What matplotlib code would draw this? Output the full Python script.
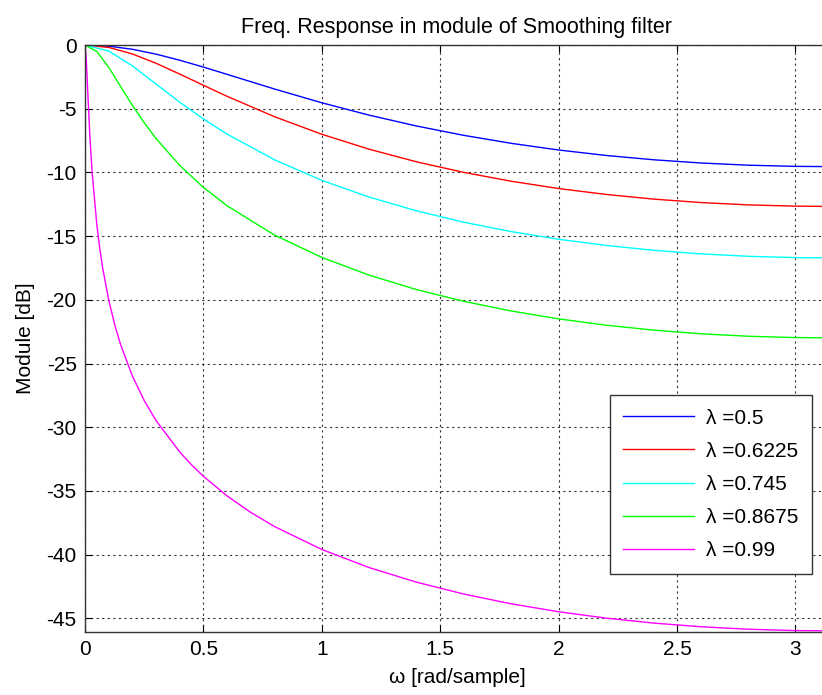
import numpy as np
import matplotlib.pyplot as plt

plt.rcParams['font.family'] = ['Liberation Sans', 'DejaVu Sans']
plt.rcParams['axes.unicode_minus'] = False

# values (module in dB vs omega in rad/sample)
w_a = [0, 0.1, 0.2, 0.3, 0.4, 0.5, 0.6, 0.8, 1.0, 1.2, 1.4, 1.6, 1.8, 2.0,
       2.2, 2.4, 2.6, 2.8, 3.0, 3.1416]
mod_050 = [0, -0.086, -0.334, -0.714, -1.192, -1.730, -2.301, -3.451, -4.532,
           -5.503, -6.355, -7.090, -7.715, -8.238, -8.665, -9.004, -9.257,
           -9.430, -9.523, -9.542]
mod_06225 = [0, -0.186, -0.698, -1.431, -2.278, -3.159, -4.025, -5.623, -7.004,
             -8.177, -9.166, -9.997, -10.690, -11.262, -11.726, -12.090,
             -12.361, -12.545, -12.645, -12.666]
mod_0745 = [0, -0.470, -1.634, -3.061, -4.485, -5.804, -6.991, -9.003, -10.620,
            -11.934, -13.014, -13.906, -14.642, -15.244, -15.728, -16.108,
            -16.390, -16.580, -16.684, -16.705]

w_b = [0, 0.05, 0.1, 0.15, 0.2, 0.25, 0.3, 0.4, 0.5, 0.6, 0.8, 1.0, 1.2, 1.4,
       1.6, 1.8, 2.0, 2.2, 2.4, 2.6, 2.8, 3.0, 3.1416]
mod_08675 = [0, -0.507, -1.744, -3.243, -4.728, -6.099, -7.336, -9.446,
             -11.172, -12.616, -14.910, -16.668, -18.063, -19.193, -20.117,
             -20.874, -21.491, -21.986, -22.373, -22.661, -22.855, -22.960,
             -22.981]

w_c = [0, 0.005, 0.01, 0.02, 0.03, 0.05, 0.0625, 0.075, 0.1, 0.125, 0.15, 0.2,
       0.25, 0.3, 0.4, 0.45, 0.5, 0.6, 0.7, 0.8, 1.0, 1.2, 1.4, 1.6, 1.8, 2.0,
       2.2, 2.4, 2.6, 2.8, 3.0, 3.1416]
mod_099 = [0, -0.960, -2.989, -6.955, -9.961, -14.107, -15.984, -17.534,
           -19.996, -21.917, -23.490, -25.973, -27.899, -29.471, -31.942,
           -32.950, -33.847, -35.389, -36.681, -37.786, -39.591, -41.012,
           -42.158, -43.092, -43.856, -44.478, -44.977, -45.366, -45.655,
           -45.850, -45.955, -45.977]

series = [
    (w_a, mod_050, '#0000ff', 'λ =0.5'),
    (w_a, mod_06225, '#ff0000', 'λ =0.6225'),
    (w_a, mod_0745, '#00ffff', 'λ =0.745'),
    (w_b, mod_08675, '#00ff00', 'λ =0.8675'),
    (w_c, mod_099, '#ff00ff', 'λ =0.99'),
]

fig = plt.figure(figsize=(8.22, 6.95), dpi=100)
ax = fig.add_axes([0.1034, 0.0906, 0.9051, 0.8446])

for w, m, c, lab in series:
    ax.plot(w, m, color=c, linewidth=1.0, label=lab)

ax.set_xlim(0, np.pi)
ax.set_ylim(-46.07, 0)
ax.set_xticks([0, 0.5, 1, 1.5, 2, 2.5, 3])
ax.set_xticklabels(['0', '0.5', '1', '1.5', '2', '2.5', '3'])
ax.set_yticks(np.arange(0, -46, -5))
ax.tick_params(direction='in', top=True, right=True, labelsize=15,
               length=5, width=0.8, pad=6)
ax.grid(True, color='black', linestyle=(0, (2, 3)), linewidth=0.8, alpha=0.8)
for s in ax.spines.values():
    s.set_color('#333333')
    s.set_linewidth(1.0)

ax.set_title('Freq. Response in module of Smoothing filter', fontsize=15.5, pad=9)
ax.set_xlabel('ω [rad/sample]', fontsize=15, labelpad=6)
ax.set_ylabel('Module [dB]', fontsize=15, labelpad=8)

leg = ax.legend(loc='upper left', bbox_to_anchor=(0.7056, 0.4037),
                fontsize=15, handlelength=3.4, labelspacing=0.68,
                borderpad=0.65, handletextpad=0.55, fancybox=False,
                framealpha=1, edgecolor='#333333', borderaxespad=0)
leg.get_frame().set_linewidth(1.0)

fig.savefig('out.png', dpi=100, facecolor='white')
